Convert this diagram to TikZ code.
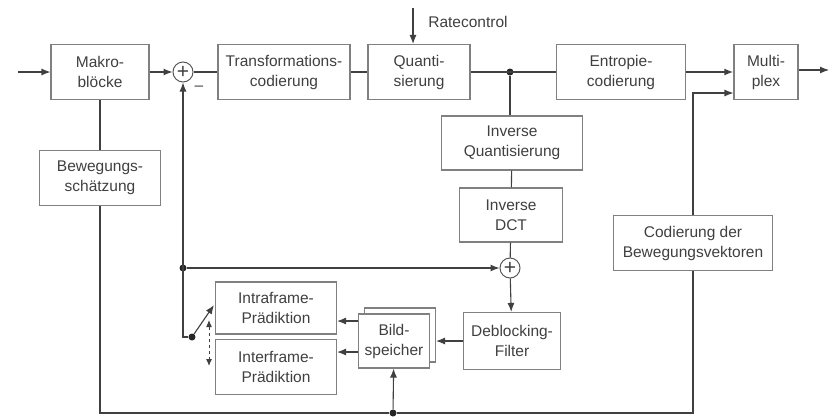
\documentclass[tikz,border=0pt]{standalone}
\usepackage{fontspec}
\setmainfont{Liberation Sans}
\usepackage{tikz}
\usetikzlibrary{arrows.meta, calc}
\newcommand{\blkfont}{\fontsize{15.5}{20}\selectfont}

\begin{document}
\begin{tikzpicture}[
        x=1pt, y=-1pt,
        blk/.style={rectangle, draw=black!50, fill=white, line width=1.1pt,
                    align=center, inner sep=1pt, font=\blkfont, text=black!75},
        sumnode/.style={circle, draw=black!65, fill=white, line width=1pt,
                    minimum size=20pt, inner sep=0pt, font=\fontsize{21}{21}\selectfont, text=black!75},
        dot/.style={circle, fill=black!85, inner sep=0pt, minimum size=7pt},
        conn/.style={line width=1.1pt, black!75},
        arrow/.style={-{Latex[length=9pt,width=7pt]}, line width=1.1pt, black!75},
        darrow/.style={{Latex[length=7pt,width=6pt]}-{Latex[length=7pt,width=6pt]},
                    line width=1pt, black!75, dashed}
    ]
        \useasboundingbox (0,0) rectangle (830,418);

        % Forward path
        \node[blk, minimum width=98, minimum height=55] (makro) at (100,72) {Makro-\\blöcke};
        \node[sumnode] (sum1) at (183,72) {+};
        \node[font=\blkfont, text=black!75] (minus) at (199,88) {\textendash};
        \node[blk, minimum width=132, minimum height=55] (trafo) at (284,72) {Transformations-\\codierung};
        \node[blk, minimum width=102, minimum height=55] (quanti) at (419,72) {Quanti-\\sierung};
        \node[blk, minimum width=129, minimum height=55] (entropie) at (621,72) {Entropie-\\codierung};
        \node[blk, minimum width=64, minimum height=55] (mux) at (766,72) {Multi-\\plex};
        \node[font=\blkfont, text=black!75] (rclabel) at (468,22) {Ratecontrol};
        \coordinate (rc) at (413,8);
        \coordinate (in) at (18,72);
        \coordinate (out) at (829,70);
        \node[dot] (j1) at (510,72) {};

        % Reconstruction path
        \node[blk, minimum width=141, minimum height=54] (invq) at (512,143) {Inverse\\Quantisierung};
        \node[blk, minimum width=103, minimum height=54] (idct) at (511,215) {Inverse\\DCT};
        \node[sumnode] (sum2) at (510,268) {+};
        \node[blk, minimum width=97, minimum height=57] (deblock) at (512,341) {Deblocking-\\Filter};
        \node[blk, minimum width=71, minimum height=54] (bildback) at (400,335) {};
        \node[blk, minimum width=71, minimum height=54] (bild) at (394,341) {Bild-\\speicher};
        \node[blk, minimum width=121, minimum height=52] (intra) at (276,308) {Intraframe-\\Prädiktion};
        \node[blk, minimum width=121, minimum height=55] (inter) at (276,367) {Interframe-\\Prädiktion};

        % Motion estimation
        \node[blk, minimum width=121, minimum height=55] (bew) at (100,178) {Bewegungs-\\schätzung};
        \node[blk, minimum width=159, minimum height=55] (cod) at (693,243) {Codierung der\\Bewegungsvektoren};

        % Switch
        \node[dot] (fb) at (183,268) {};
        \node[dot] (sw) at (192,337) {};
        \node[dot] (mv) at (393,413) {};
        \coordinate (swtip) at (214,305);
        \coordinate (swa) at (209,320);
        \coordinate (swb) at (209,366);

        % Arrows
        \draw[arrow] (in) -- (makro);
        \draw[arrow] (makro) -- (sum1);
        \draw[conn] (sum1) -- (trafo);
        \draw[conn] (trafo) -- (quanti);
        \draw[conn] (quanti) -- (entropie);
        \draw[arrow, line width=1.8pt] (entropie) -- (mux);
        \draw[arrow] (mux.east |- out) -- (out);
        \draw[arrow] (rc) -- (rc |- quanti.north);
        \draw[conn] (j1) -- (j1 |- invq.north);
        \draw[conn] (invq) -- (idct);
        \draw[conn] (idct) -- (sum2);
        \draw[arrow] (sum2) -- (deblock);
        \draw[arrow] (deblock) -- (deblock -| bildback.east);
        \draw[arrow] ([yshift=20pt]bild.west) -- ([yshift=20pt]bild.west -| intra.east);
        \draw[arrow] ([yshift=-11pt]bild.west) -- ([yshift=-11pt]bild.west -| inter.east);
        \draw[arrow] (sw) -| (sum1);
        \draw[arrow] (fb) -- (sum2);
        \draw[arrow] (sw) -- (swtip);
        \draw[darrow] (swa) -- (swb);
        \draw[conn] (makro) -- (bew);
        \draw[conn] (bew) |- (mv) -| (cod);
        \draw[arrow] (mv) -- (bild);
        \draw[arrow] (cod) |- ([yshift=-21pt]mux.west);
    \end{tikzpicture}
\end{document}
